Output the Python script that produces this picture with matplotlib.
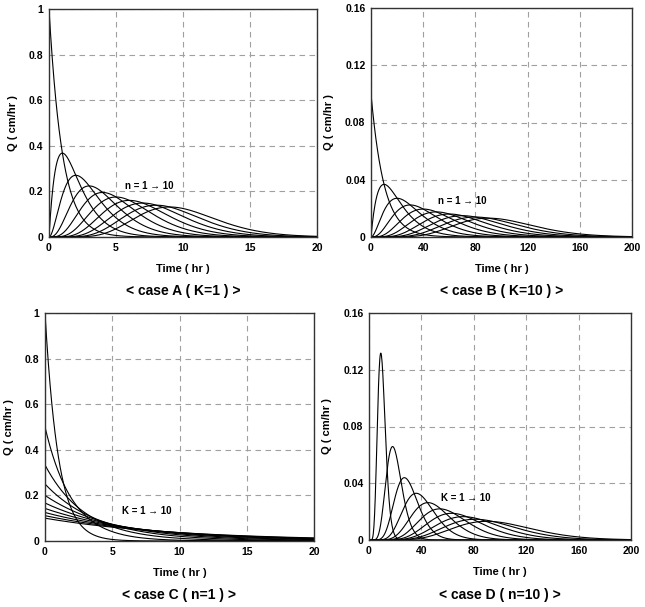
import numpy as np
import matplotlib
matplotlib.use("Agg")
import matplotlib.pyplot as plt
from math import gamma

# Nash model parameters
n_values_AB = [1, 2, 3, 4, 5, 6, 7, 8, 9, 10]
K_A = 1
K_B = 10
K_values_CD = [1, 2, 3, 4, 5, 6, 7, 8, 9, 10]
n_C = 1
n_D = 10

xticks_AC = [0, 5, 10, 15, 20]
xticks_BD = [0, 40, 80, 120, 160, 200]
yticks_AC = [0, 0.2, 0.4, 0.6, 0.8, 1]
yticks_BD = [0, 0.04, 0.08, 0.12, 0.16]
ytick_labels_AC = ["0", "0.2", "0.4", "0.6", "0.8", "1"]
ytick_labels_BD = ["0", "0.04", "0.08", "0.12", "0.16"]

titles = ["< case A ( K=1 ) >", "< case B ( K=10 ) >",
          "< case C ( n=1 ) >", "< case D ( n=10 ) >"]
annots = ["n = 1 \u2192 10", "n = 1 \u2192 10", "K = 1 \u2192 10", "K = 1 \u2192 10"]
annot_pos = [(5.7, 0.225), (51, 0.025), (5.7, 0.13), (55, 0.0296)]


def nash(t, n, K):
    return (t / K) ** (n - 1) * np.exp(-t / K) / (K * gamma(n))


plt.rcParams['font.family'] = ['Liberation Sans', 'DejaVu Sans']
plt.rcParams['font.weight'] = 'bold'

fig = plt.figure(figsize=(6.45, 6.07), dpi=100)
W, H = 645, 607
boxes = [(49, 9, 317, 237), (371, 8, 632, 237), (45, 313, 314, 541), (369, 313, 631, 540)]
axes = []
for (l, t, r, b) in boxes:
    axes.append(fig.add_axes([l / W, 1 - b / H, (r - l) / W, (b - t) / H]))

tA = np.linspace(0, 20, 800)
tB = np.linspace(0, 200, 800)

for n in n_values_AB:
    axes[0].plot(tA, nash(tA, n, K_A), color='black', lw=0.8)
    axes[1].plot(tB, nash(tB, n, K_B), color='black', lw=0.8)
for K in K_values_CD:
    axes[2].plot(tA, nash(tA, n_C, K), color='black', lw=0.8)
    axes[3].plot(tB, nash(tB, n_D, K), color='black', lw=0.8)

for i, ax in enumerate(axes):
    if i in (0, 2):
        ax.set_xlim(0, 20)
        ax.set_ylim(0, 1)
        ax.set_xticks(xticks_AC)
        ax.set_yticks(yticks_AC)
        ax.set_yticklabels(ytick_labels_AC)
    else:
        ax.set_xlim(0, 200)
        ax.set_ylim(0, 0.16)
        ax.set_xticks(xticks_BD)
        ax.set_yticks(yticks_BD)
        ax.set_yticklabels(ytick_labels_BD)
    ax.grid(True, color='#a0a0a0', linestyle=(0, (5, 4)), lw=0.8)
    ax.tick_params(length=0, labelsize=7.5, pad=4)
    for lab in ax.get_xticklabels() + ax.get_yticklabels():
        lab.set_fontweight('bold')
    for s in ax.spines.values():
        s.set_color('#333333')
        s.set_linewidth(1.0)
    ax.set_xlabel("Time ( hr )", fontsize=8, fontweight='bold', labelpad=8)
    ax.set_ylabel("Q ( cm/hr )", fontsize=8, fontweight='bold', labelpad=8)
    ax.text(annot_pos[i][0], annot_pos[i][1], annots[i], fontsize=7,
            fontweight='bold', va='center', ha='left')

title_y = [291, 291, 595, 595]
for i, (l, t, r, b) in enumerate(boxes):
    fig.text(((l + r) / 2) / W, 1 - title_y[i] / H, titles[i], fontsize=10,
             fontweight='bold', ha='center', va='center')

fig.savefig("out.png", dpi=100, facecolor='white')
